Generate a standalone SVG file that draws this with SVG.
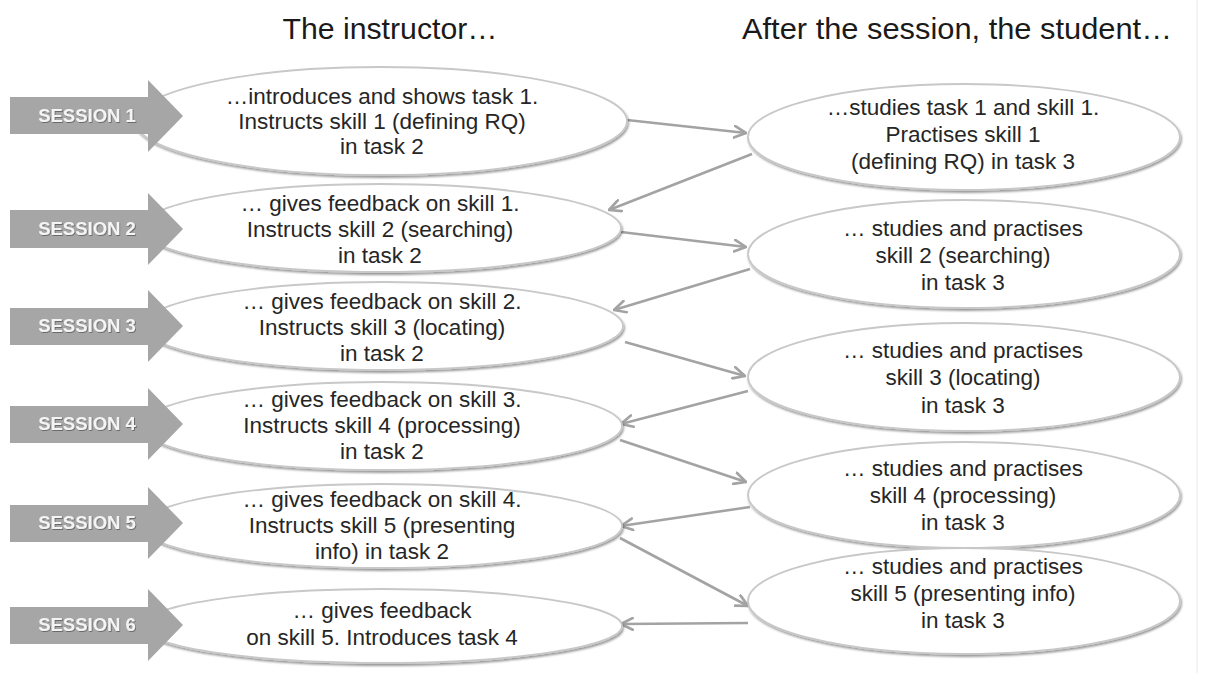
<svg xmlns="http://www.w3.org/2000/svg" width="1205" height="673" viewBox="0 0 1205 673">
  <style>
    .hdr { font-family: "Liberation Sans", Arial, sans-serif; font-size: 29px; fill: #1a1a1a; text-anchor: middle; }
    .txt { font-family: "Liberation Sans", Arial, sans-serif; font-size: 22.5px; fill: #262626; text-anchor: middle; }
    .ses { font-family: "Liberation Sans", Arial, sans-serif; font-size: 18.5px; font-weight: bold; fill: #f4f4f4; text-anchor: middle; }
    .ell { fill: #ffffff; stroke: #c8c8c8; stroke-width: 1.8; filter: url(#shadow); }
    .sarrow { fill: #a6a6a6; }
    .conn { fill: none; stroke: #a3a3a3; stroke-width: 2.6; marker-end: url(#arrow); }
  </style>
  <defs>
    <filter id="shadow" x="-5%" y="-10%" width="110%" height="125%">
      <feDropShadow dx="1" dy="2" stdDeviation="1.3" flood-color="#000000" flood-opacity="0.4"/>
    </filter>
    <filter id="tshadow" x="-10%" y="-30%" width="120%" height="160%">
      <feDropShadow dx="0.8" dy="0.8" stdDeviation="0.6" flood-color="#000000" flood-opacity="0.45"/>
    </filter>
    <marker id="arrow" viewBox="0 0 12 12" refX="11" refY="6" markerWidth="14" markerHeight="14" markerUnits="userSpaceOnUse" orient="auto">
      <path d="M1,1 L11,6 L1,11" fill="none" stroke="#a3a3a3" stroke-width="2.3" stroke-linecap="round" stroke-linejoin="round"/>
    </marker>
  </defs>

  <rect x="0" y="0" width="1205" height="673" fill="#ffffff"/>
  <line x1="1197" y1="0" x2="1197" y2="673" stroke="#f0f0f0" stroke-width="1.5"/>

  <g id="headers">
    <text class="hdr" x="390" y="39" textLength="215" lengthAdjust="spacingAndGlyphs">The instructor…</text>
    <text class="hdr" x="957" y="39" textLength="430" lengthAdjust="spacingAndGlyphs">After the session, the student…</text>
  </g>

  <g id="connectors">
    <line class="conn" x1="627" y1="120" x2="746" y2="133"/>
    <line class="conn" x1="752" y1="154" x2="609" y2="210"/>
    <line class="conn" x1="621" y1="232" x2="746" y2="247"/>
    <line class="conn" x1="750" y1="269" x2="614" y2="310"/>
    <line class="conn" x1="625" y1="342" x2="745" y2="376"/>
    <line class="conn" x1="748" y1="391" x2="621" y2="424"/>
    <line class="conn" x1="620" y1="440" x2="746" y2="482"/>
    <line class="conn" x1="750" y1="507" x2="621" y2="526"/>
    <line class="conn" x1="620" y1="538" x2="748" y2="606"/>
    <line class="conn" x1="748" y1="623" x2="621" y2="624"/>
  </g>

  <g id="instructor1">
    <ellipse class="ell" cx="381" cy="121" rx="246" ry="54"/>
    <text class="txt" x="382" y="104">…introduces and shows task 1.</text>
    <text class="txt" x="382" y="129">Instructs skill 1 (defining RQ)</text>
    <text class="txt" x="382" y="154">in task 2</text>
  </g>
  <g id="instructor2">
    <ellipse class="ell" cx="381" cy="228" rx="240" ry="44"/>
    <text class="txt" x="380" y="211">… gives feedback on skill 1.</text>
    <text class="txt" x="380" y="237">Instructs skill 2 (searching)</text>
    <text class="txt" x="380" y="263">in task 2</text>
  </g>
  <g id="instructor3">
    <ellipse class="ell" cx="383" cy="326" rx="240" ry="44"/>
    <text class="txt" x="382" y="309">… gives feedback on skill 2.</text>
    <text class="txt" x="382" y="335">Instructs skill 3 (locating)</text>
    <text class="txt" x="382" y="361">in task 2</text>
  </g>
  <g id="instructor4">
    <ellipse class="ell" cx="382" cy="426" rx="240" ry="44"/>
    <text class="txt" x="382" y="407">… gives feedback on skill 3.</text>
    <text class="txt" x="382" y="433">Instructs skill 4 (processing)</text>
    <text class="txt" x="382" y="459">in task 2</text>
  </g>
  <g id="instructor5">
    <ellipse class="ell" cx="382" cy="526" rx="240" ry="42"/>
    <text class="txt" x="382" y="507">… gives feedback on skill 4.</text>
    <text class="txt" x="382" y="533">Instructs skill 5 (presenting</text>
    <text class="txt" x="382" y="559">info) in task 2</text>
  </g>
  <g id="instructor6">
    <ellipse class="ell" cx="382" cy="626" rx="240" ry="37"/>
    <text class="txt" x="382" y="618">… gives feedback</text>
    <text class="txt" x="382" y="645">on skill 5. Introduces task 4</text>
  </g>

  <g id="student1">
    <ellipse class="ell" cx="964" cy="137" rx="216" ry="53"/>
    <text class="txt" x="963" y="115">…studies task 1 and skill 1.</text>
    <text class="txt" x="963" y="142">Practises skill 1</text>
    <text class="txt" x="963" y="169">(defining RQ) in task 3</text>
  </g>
  <g id="student2">
    <ellipse class="ell" cx="964" cy="254" rx="216" ry="54"/>
    <text class="txt" x="963" y="236">… studies and practises</text>
    <text class="txt" x="963" y="263">skill 2 (searching)</text>
    <text class="txt" x="963" y="290">in task 3</text>
  </g>
  <g id="student3">
    <ellipse class="ell" cx="964" cy="377" rx="216" ry="54"/>
    <text class="txt" x="963" y="358">… studies and practises</text>
    <text class="txt" x="963" y="385">skill 3 (locating)</text>
    <text class="txt" x="963" y="413">in task 3</text>
  </g>
  <g id="student4">
    <ellipse class="ell" cx="964" cy="495" rx="216" ry="53"/>
    <text class="txt" x="963" y="476">… studies and practises</text>
    <text class="txt" x="963" y="503">skill 4 (processing)</text>
    <text class="txt" x="963" y="530">in task 3</text>
  </g>
  <g id="student5">
    <ellipse class="ell" cx="964" cy="601" rx="216" ry="53"/>
    <text class="txt" x="963" y="574">… studies and practises</text>
    <text class="txt" x="963" y="601">skill 5 (presenting info)</text>
    <text class="txt" x="963" y="628">in task 3</text>
  </g>

  <g id="session1">
    <polygon class="sarrow" points="10,97 148,97 148,80 183,116 148,152 148,134 10,134"/>
    <text class="ses" x="87" y="122" filter="url(#tshadow)">SESSION 1</text>
  </g>
  <g id="session2">
    <polygon class="sarrow" points="10,210 148,210 148,193 183,229 148,265 148,248 10,248"/>
    <text class="ses" x="87" y="235" filter="url(#tshadow)">SESSION 2</text>
  </g>
  <g id="session3">
    <polygon class="sarrow" points="10,308 148,308 148,290 183,326 148,362 148,345 10,345"/>
    <text class="ses" x="87" y="332" filter="url(#tshadow)">SESSION 3</text>
  </g>
  <g id="session4">
    <polygon class="sarrow" points="10,406 148,406 148,388 183,424 148,460 148,443 10,443"/>
    <text class="ses" x="87" y="430" filter="url(#tshadow)">SESSION 4</text>
  </g>
  <g id="session5">
    <polygon class="sarrow" points="10,505 148,505 148,487 183,523 148,559 148,542 10,542"/>
    <text class="ses" x="87" y="529" filter="url(#tshadow)">SESSION 5</text>
  </g>
  <g id="session6">
    <polygon class="sarrow" points="10,607 148,607 148,589 183,625 148,661 148,644 10,644"/>
    <text class="ses" x="87" y="631" filter="url(#tshadow)">SESSION 6</text>
  </g>
</svg>
